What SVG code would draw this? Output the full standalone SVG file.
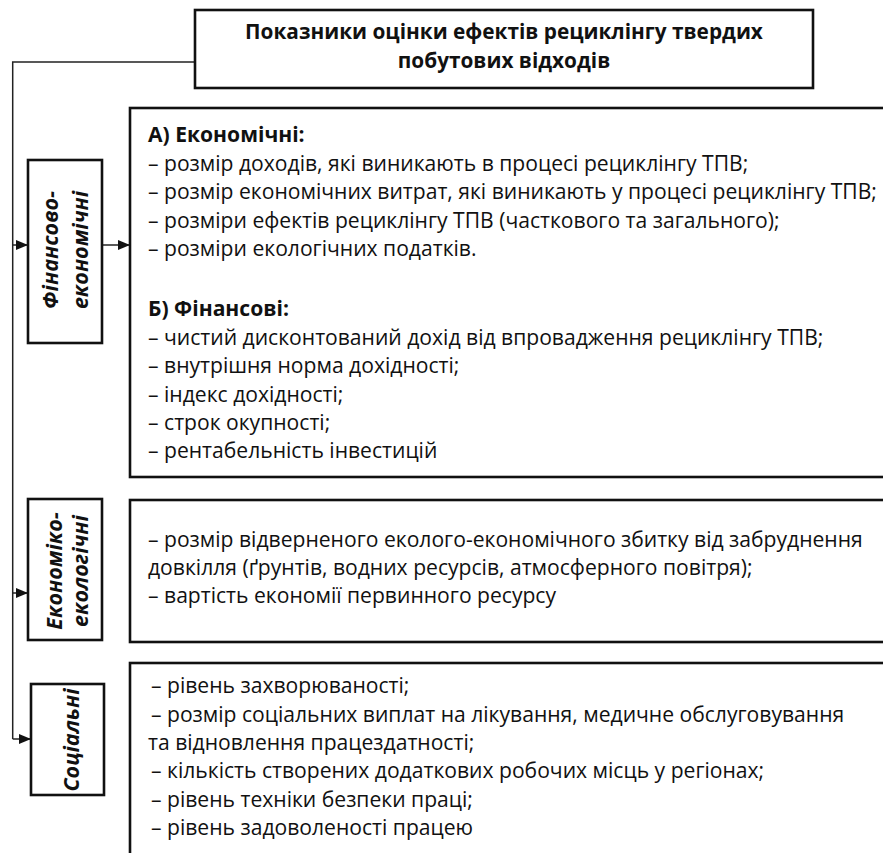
<svg xmlns="http://www.w3.org/2000/svg" width="883" height="853" viewBox="0 0 883 853">
<style>
.box{fill:#fff;stroke:#111;stroke-width:2.6}
.conn{fill:none;stroke:#222;stroke-width:1.5}
.t{font-family:"Open Sans","Noto Sans","Liberation Sans",sans-serif;font-size:21.1px;fill:#111}
.b{font-weight:bold}
.title{font-family:"Open Sans","Noto Sans","Liberation Sans",sans-serif;font-size:20.8px;font-weight:bold;fill:#111;text-anchor:middle}
.v{font-family:"Open Sans","Noto Sans","Liberation Sans",sans-serif;font-size:21.5px;font-weight:bold;font-style:italic;fill:#111;text-anchor:middle}
</style>
<defs>
<marker id="ah" viewBox="0 0 12 10" refX="12" refY="5" markerWidth="12" markerHeight="10" markerUnits="userSpaceOnUse" orient="auto">
<path d="M0,0 L12,5 L0,10 Z" fill="#111"/>
</marker>
</defs>
<rect width="883" height="853" fill="#fff"/>
<g id="connectors">
<path class="conn" d="M195,62 H12.7 V739"/>
<line class="conn" x1="12.7" y1="245" x2="28" y2="245" marker-end="url(#ah)"/>
<line class="conn" x1="102" y1="245" x2="130" y2="245" marker-end="url(#ah)"/>
<line class="conn" x1="12.7" y1="593" x2="28" y2="593" marker-end="url(#ah)"/>
<line class="conn" x1="12.7" y1="739" x2="31" y2="739" marker-end="url(#ah)"/>
</g>
<g id="title">
<rect class="box" x="195" y="10" width="618" height="78" stroke-width="3"/>
<text class="title" x="504" y="39">Показники оцінки ефектів рециклінгу твердих</text>
<text class="title" x="504" y="68">побутових відходів</text>
</g>
<g id="label-fin">
<rect class="box" x="28" y="160" width="74" height="183"/>
<text class="v" transform="translate(58,250) rotate(-90)">Фінансово-</text>
<text class="v" transform="translate(88,250) rotate(-90)">економічні</text>
</g>
<g id="box-fin">
<rect class="box" x="130" y="108" width="780" height="369"/>
<text class="t b" x="148" y="142">А) Економічні:</text>
<text class="t" x="148" y="170.5">– розмір доходів, які виникають в процесі рециклінгу ТПВ;</text>
<text class="t" x="148" y="199">– розмір економічних витрат, які виникають у процесі рециклінгу ТПВ;</text>
<text class="t" x="148" y="227.5">– розміри ефектів рециклінгу ТПВ (часткового та загального);</text>
<text class="t" x="148" y="256">– розміри екологічних податків.</text>
<text class="t b" x="148" y="316">Б) Фінансові:</text>
<text class="t" x="148" y="345">– чистий дисконтований дохід від впровадження рециклінгу ТПВ;</text>
<text class="t" x="148" y="373">– внутрішня норма дохідності;</text>
<text class="t" x="148" y="401.5">– індекс дохідності;</text>
<text class="t" x="148" y="430">– строк окупності;</text>
<text class="t" x="148" y="458">– рентабельність інвестицій</text>
</g>
<g id="label-eco">
<rect class="box" x="28" y="499" width="74" height="141"/>
<text class="v" transform="translate(62,571) rotate(-90)">Економіко-</text>
<text class="v" transform="translate(88,571) rotate(-90)">екологічні</text>
</g>
<g id="box-eco">
<rect class="box" x="130" y="500" width="780" height="142"/>
<text class="t" x="148" y="547">– розмір відверненого еколого-економічного збитку від забруднення</text>
<text class="t" x="148" y="575">довкілля (ґрунтів, водних ресурсів, атмосферного повітря);</text>
<text class="t" x="148" y="603">– вартість економії первинного ресурсу</text>
</g>
<g id="label-soc">
<rect class="box" x="31" y="684" width="73" height="111"/>
<text class="v" transform="translate(79,740) rotate(-90)">Соціальні</text>
</g>
<g id="box-soc">
<rect class="box" x="130" y="663" width="780" height="250"/>
<text class="t" x="151" y="693">– рівень захворюваності;</text>
<text class="t" x="151" y="722">– розмір соціальних виплат на лікування, медичне обслуговування</text>
<text class="t" x="148" y="750">та відновлення працездатності;</text>
<text class="t" x="151" y="778">– кількість створених додаткових робочих місць у регіонах;</text>
<text class="t" x="151" y="807">– рівень техніки безпеки праці;</text>
<text class="t" x="151" y="835">– рівень задоволеності працею</text>
</g>
</svg>
